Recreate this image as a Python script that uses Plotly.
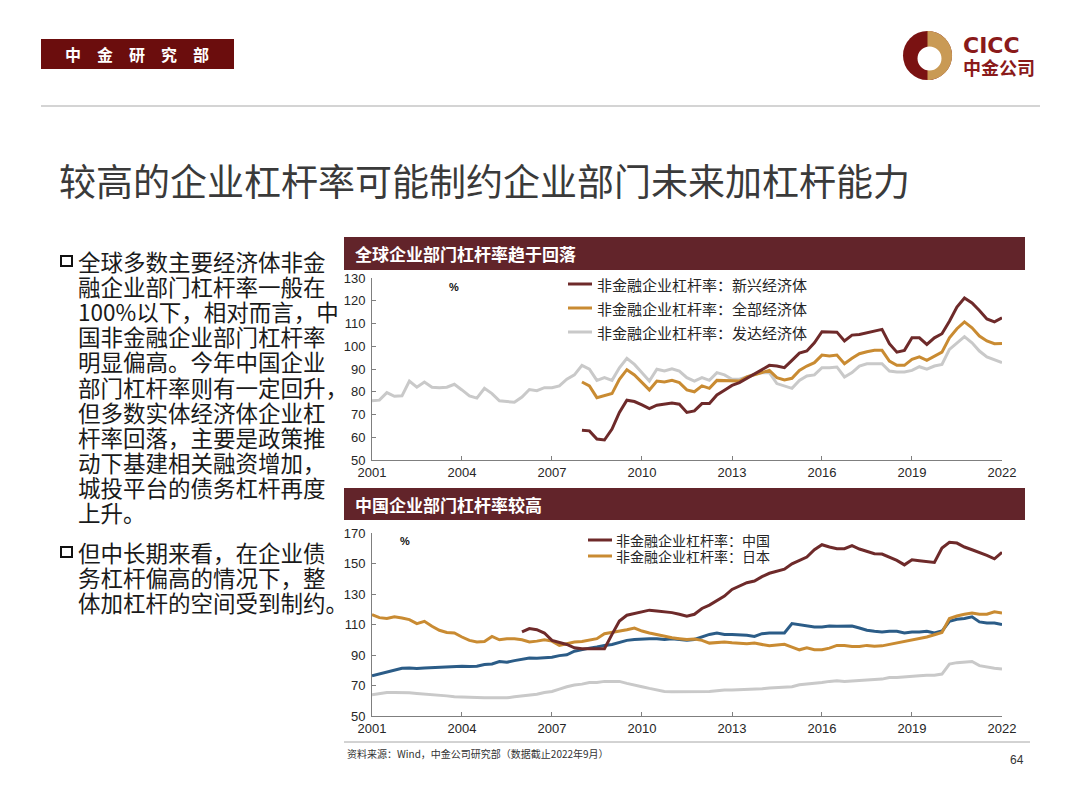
import numpy as np
import pandas as pd
import plotly.graph_objects as go

# quarterly dates, 2001Q1 - 2022Q1
quarters = pd.date_range("2001-01-01", "2022-01-01", freq="QS")

# top chart: 全球企业部门杠杆率 (%)
developed = [76.0, 76.3, 79.6, 78.0, 78.2, 84.7, 82.0, 84.3, 82.0, 81.8, 82.0, 83.3,
             80.8, 78.2, 77.2, 81.5, 79.2, 76.0, 75.7, 75.4, 77.7, 81.0, 80.5, 81.8,
             81.8, 82.6, 85.5, 87.4, 91.6, 89.9, 85.0, 86.2, 85.0, 90.5, 94.7, 92.0,
             88.4, 84.7, 89.9, 89.1, 90.1, 89.1, 86.2, 84.7, 86.2, 85.0, 88.4, 87.4,
             85.5, 85.5, 86.5, 87.7, 88.4, 88.4, 83.6, 82.6, 81.5, 85.0, 86.9, 87.4,
             90.6, 90.6, 90.9, 86.5, 88.4, 91.3, 92.3, 92.3, 92.3, 89.1, 88.7, 88.7,
             89.4, 91.0, 89.9, 91.3, 92.0, 98.6, 101.5, 104.2, 101.5, 97.9, 95.3, 94.2,
             92.8]
all_econ = [84.3, 82.6, 77.4, 78.2, 79.2, 85.5, 89.7, 87.4, 84.0, 80.8, 84.7, 84.3,
            85.0, 84.0, 80.8, 80.0, 82.6, 81.5, 85.0, 85.0, 84.7, 84.7, 86.5, 87.4,
            88.4, 89.4, 86.2, 85.2, 85.9, 89.4, 91.3, 92.8, 96.1, 95.7, 96.1, 92.3,
            94.7, 96.7, 97.6, 98.2, 98.2, 93.5, 91.6, 91.6, 94.2, 95.3, 93.8, 95.7,
            97.4, 103.7, 107.7, 110.7, 108.1, 104.5, 102.3, 101.1, 101.2]
emerging = [63.1, 62.8, 59.2, 58.8, 63.6, 70.9, 76.3, 75.7, 74.2, 72.6, 74.1, 74.5,
            75.0, 74.5, 70.9, 71.6, 74.8, 74.8, 78.6, 80.7, 82.8, 84.0, 85.9, 88.0,
            89.9, 91.6, 91.3, 90.6, 93.8, 97.0, 97.9, 101.5, 106.4, 106.2, 106.2, 102.3,
            104.9, 105.2, 105.9, 106.9, 107.4, 101.1, 97.4, 98.2, 103.7, 103.7, 100.8, 103.7,
            105.5, 111.0, 117.2, 121.2, 119.0, 115.7, 112.0, 110.7, 112.5]

# bottom chart: 中国企业部门杠杆率较高 (%)
china = [105.1, 107.3, 106.6, 104.4, 99.6, 98.5, 96.9, 94.7, 94.1, 94.1, 94.1, 94.1,
         103.5, 112.3, 116.1, 117.2, 118.7, 119.4, 118.9, 118.3, 117.8, 116.7, 115.4, 116.7,
         120.5, 122.7, 125.6, 128.6, 133.0, 135.2, 137.4, 138.5, 141.4, 143.6, 144.7, 146.3,
         149.8, 152.0, 154.2, 159.0, 162.3, 160.8, 159.7, 159.7, 161.7, 159.5, 157.9, 156.4,
         156.2, 154.2, 152.0, 149.1, 152.4, 151.8, 151.1, 150.7, 160.1, 163.9, 163.4, 160.8,
         159.0, 157.3, 155.3, 153.1, 157.3]
japan = [116.5, 114.5, 113.9, 115.0, 114.3, 113.2, 110.6, 112.1, 108.8, 106.2, 104.8, 104.4,
         101.8, 99.6, 98.5, 98.9, 102.2, 100.0, 100.7, 100.7, 100.0, 98.5, 99.1, 100.0,
         99.1, 96.3, 97.4, 98.5, 98.9, 99.6, 100.7, 104.0, 104.8, 105.7, 106.6, 107.7,
         105.7, 104.4, 103.3, 102.2, 101.3, 100.7, 100.2, 100.5, 99.6, 97.8, 98.0, 98.5,
         98.0, 97.8, 97.4, 97.8, 96.9, 96.0, 96.5, 97.0, 95.2, 93.4, 94.7, 93.4,
         93.4, 94.5, 96.3, 96.3, 95.6, 95.6, 96.3, 95.8, 96.0, 96.9, 97.8, 99.1,
         99.6, 100.7, 101.8, 103.3, 104.8, 113.9, 115.6, 116.7, 117.6, 116.7, 116.7, 118.3,
         117.6]
euro = [76.4, 77.5, 78.6, 80.2, 81.3, 81.5, 81.1, 81.5, 81.7, 81.9, 82.4, 82.6,
        82.6, 82.4, 82.6, 83.7, 84.1, 85.7, 85.2, 86.3, 87.4, 88.1, 87.9, 88.1,
        88.5, 89.6, 90.1, 92.5, 93.6, 94.5, 95.2, 96.3, 96.9, 98.5, 99.6, 100.2,
        100.7, 100.7, 100.7, 100.2, 100.7, 100.0, 99.6, 100.2, 102.0, 103.5, 104.4, 103.5,
        103.5, 103.3, 102.9, 102.2, 104.0, 104.4, 104.4, 104.4, 110.6, 109.9, 108.8, 108.4,
        108.4, 109.0, 108.8, 108.8, 109.0, 107.7, 106.2, 105.5, 105.1, 105.5, 105.5, 104.4,
        105.1, 105.1, 105.5, 104.4, 105.7, 112.1, 113.4, 113.9, 115.0, 111.7, 111.0, 111.0,
        109.9]
us = [63.9, 64.8, 65.4, 65.4, 65.4, 65.2, 64.8, 64.5, 63.9, 63.7, 63.2, 62.6,
      62.3, 62.1, 61.9, 61.9, 61.9, 61.9, 61.9, 62.6, 63.2, 63.7, 64.3, 65.4,
      66.1, 67.6, 69.2, 70.3, 70.9, 72.0, 72.0, 72.7, 72.7, 72.7, 71.4, 70.5,
      69.2, 68.1, 67.0, 66.1, 65.9, 65.9, 65.9, 65.9, 66.1, 66.1, 66.5, 67.0,
      67.0, 67.2, 67.4, 67.4, 67.8, 68.3, 68.7, 69.2, 69.2, 70.5, 70.9, 71.4,
      72.0, 72.7, 73.1, 72.7, 73.1, 73.6, 73.8, 74.0, 74.2, 75.3, 75.3, 75.8,
      76.4, 76.4, 76.7, 76.7, 77.5, 84.1, 85.0, 85.2, 85.7, 83.0, 81.9, 81.3,
      80.8]

year_ticks = ["2001", "2004", "2007", "2010", "2013", "2016", "2019", "2022"]

title = "较高的企业杠杆率可能制约企业部门未来加杠杆能力"
bullet1 = ["全球多数主要经济体非金", "融企业部门杠杆率一般在", "100%以下，相对而言，中",
           "国非金融企业部门杠杆率", "明显偏高。今年中国企业", "部门杠杆率则有一定回升，",
           "但多数实体经济体企业杠", "杆率回落，主要是政策推", "动下基建相关融资增加，",
           "城投平台的债务杠杆再度", "上升。"]
bullet2 = ["但中长期来看，在企业债", "务杠杆偏高的情况下，整", "体加杠杆的空间受到制约。"]

RED = "#6e2a2a"
ORANGE = "#c98b32"
GRAY = "#c9c9c9"
BLUE = "#2b5c87"
BAR = "#62242a"
CJK = "Noto Sans CJK SC"
NUM = "Liberation Sans Narrow, Liberation Sans, Arial"

# the page body has an 8px margin, so the figure is sized to fit the window
OFF = 8
W, H = 1080 - 2 * OFF, 810 - 2 * OFF


def px(x):
    return (x - OFF) / W


def py(y):
    return 1 - (y - OFF) / H


fig = go.Figure()

top = [("非金融企业杠杆率：新兴经济体", emerging, RED),
       ("非金融企业杠杆率：全部经济体", all_econ, ORANGE),
       ("非金融企业杠杆率：发达经济体", developed, GRAY)]
# gray first so the coloured lines sit on top
for name, vals, col in reversed(top):
    fig.add_trace(go.Scatter(x=quarters[-len(vals):], y=vals, name=name, mode="lines",
                             line=dict(color=col, width=3), xaxis="x", yaxis="y",
                             showlegend=False))

bottom = [("非金融企业杠杆率：中国", china, RED),
          ("非金融企业杠杆率：日本", japan, ORANGE)]
others = [("非金融企业杠杆率：美国", us, GRAY),
          ("非金融企业杠杆率：欧元区", euro, BLUE)]
for name, vals, col in others + bottom[::-1]:
    fig.add_trace(go.Scatter(x=quarters[-len(vals):], y=vals, name=name, mode="lines",
                             line=dict(color=col, width=3), xaxis="x2", yaxis="y2",
                             showlegend=False))

xcommon = dict(type="date", range=["2001-01-01", "2022-01-01"],
               tickvals=[y + "-01-01" for y in year_ticks], ticktext=year_ticks,
               showgrid=False, showline=True, linecolor="#7f7f7f", linewidth=1,
               ticks="inside", ticklen=4, tickcolor="#7f7f7f", zeroline=False,
               automargin=False,
               tickfont=dict(family=NUM, size=13, color="#262626"))
ycommon = dict(showgrid=False, showline=True, linecolor="#7f7f7f", linewidth=1,
               ticks="inside", ticklen=4, tickcolor="#7f7f7f", zeroline=False,
               ticklabelstandoff=3, automargin=False, tick0=50,
               tickfont=dict(family=NUM, size=13, color="#262626"))

fig.update_layout(
    width=W, height=H, margin=dict(l=0, r=0, t=0, b=0, autoexpand=False),
    paper_bgcolor="white", plot_bgcolor="white", showlegend=False,
    xaxis=dict(domain=[px(372), px(1002)], anchor="y", **xcommon),
    yaxis=dict(domain=[py(460), py(278)], anchor="x", range=[50, 130], dtick=10, **ycommon),
    xaxis2=dict(domain=[px(372), px(1002)], anchor="y2", **xcommon),
    yaxis2=dict(domain=[py(716), py(533)], anchor="x2", range=[50, 170], dtick=20, **ycommon),
)

shapes = []
ann = []


def text(x, y, s, size, color="#1a1a1a", family=CJK, anchor="left"):
    ann.append(dict(x=px(x), y=py(y), xref="paper", yref="paper", text=s, showarrow=False,
                    xanchor=anchor, yanchor="middle",
                    font=dict(family=family, size=size, color=color)))


def rect(x0, y0, x1, y1, fill=None, line=None, lw=0):
    shapes.append(dict(type="rect", xref="paper", yref="paper",
                       x0=px(x0), x1=px(x1), y0=py(y1), y1=py(y0),
                       fillcolor=fill or "rgba(0,0,0,0)",
                       line=dict(color=line or "rgba(0,0,0,0)", width=lw)))


def hline(x0, x1, y, color, width):
    shapes.append(dict(type="line", xref="paper", yref="paper", x0=px(x0), x1=px(x1),
                       y0=py(y), y1=py(y), line=dict(color=color, width=width)))


# header
rect(41, 39, 234, 69, fill="#6b0d0d")
text(137, 54, "<b>中　金　研　究　部</b>", 16, color="white", anchor="center")
hline(41, 1040, 106, "#d4d4d4", 2)
text(57, 180, title, 37, color="#3a3a3a")

# logo
cx, cy, r = 927.5, 55.5, 24.5
shapes.append(dict(type="circle", xref="paper", yref="paper", x0=px(cx - r), x1=px(cx + r),
                   y0=py(cy + r), y1=py(cy - r), fillcolor="#7a1212", line=dict(width=0)))
ang = np.linspace(-np.pi / 2, np.pi / 2, 40)
pts = " L".join(f"{px(cx + r * np.cos(a)):.5f},{py(cy + r * np.sin(a)):.5f}" for a in ang)
shapes.append(dict(type="path", xref="paper", yref="paper", path="M" + pts + " Z",
                   fillcolor="#c99a55", line=dict(width=0)))
ri = 12
shapes.append(dict(type="circle", xref="paper", yref="paper", x0=px(929.5 - ri),
                   x1=px(929.5 + ri), y0=py(58.5 + ri), y1=py(58.5 - ri),
                   fillcolor="white", line=dict(width=0)))
text(961, 46, "<b>CICC</b>", 22, color="#8a1a1a", family="DejaVu Sans")
text(961, 67, "<b>中金公司</b>", 18, color="#8a1a1a")

# left text
rect(61, 256, 72, 266, line="#111111", lw=2)
for i, s in enumerate(bullet1):
    text(76, 261 + 25.1 * i, s, 22.5)
rect(61, 547, 72, 557, line="#111111", lw=2)
for i, s in enumerate(bullet2):
    text(76, 552 + 25.1 * i, s, 22.5)

# chart headers
rect(344, 237, 1025, 270, fill=BAR)
text(353, 253, "<b>全球企业部门杠杆率趋于回落</b>", 17, color="white")
rect(344, 488, 1025, 520, fill=BAR)
text(353, 504, "<b>中国企业部门杠杆率较高</b>", 17, color="white")

text(447, 287, "<b>%</b>", 11, color="#111111", family="Liberation Sans")
text(398, 541, "<b>%</b>", 11, color="#111111", family="Liberation Sans")

# legends
for i, (name, vals, col) in enumerate(top):
    y = 284 + 24 * i
    hline(568, 592, y, col, 3)
    text(595, y, name, 15, color="#262626")
for i, (name, vals, col) in enumerate(bottom):
    y = 540 + 16 * i
    hline(588, 612, y, col, 3)
    text(614, y, name, 14, color="#262626")

# footer
hline(344, 1030, 742, "#a6a6a6", 1)
text(345, 753, "资料来源：Wind，中金公司研究部（数据截止2022年9月）", 10, color="#333333")
text(1008, 760, "64", 12, color="#333333", family="Liberation Sans")

fig.update_layout(shapes=shapes, annotations=ann)
fig.write_html("out.html")
